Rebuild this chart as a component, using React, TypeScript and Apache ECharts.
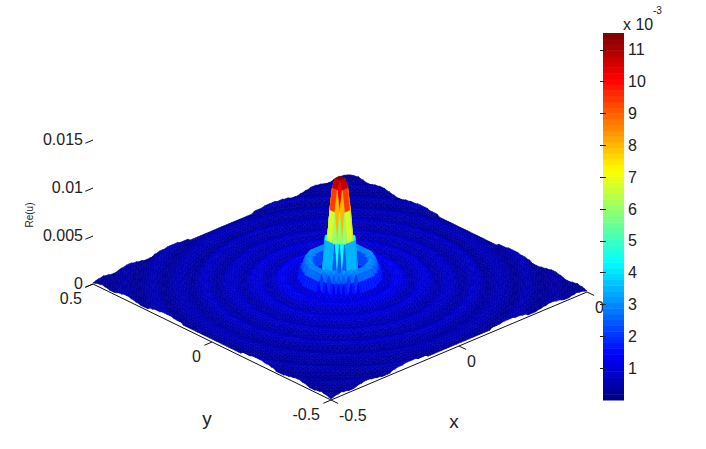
import React, { useEffect, useRef } from "react";
import * as echarts from "echarts";

// Radial profile of Re(u): one value per 0.01 of radius.
const radialProfile = [
  0.0115, 0.0114, 0.0105, 0.0083, 0.0052, 0.0018, 0.0008, 0.0016, 0.0028, 0.0032,
  0.0029, 0.0022, 0.0012, 0.0007, 0.0008, 0.0011, 0.0013, 0.0013, 0.0011, 0.0008,
  0.0006, 0.0006, 0.0008, 0.001, 0.0011, 0.001, 0.0008, 0.0005, 0.0005, 0.0006,
  0.0008, 0.0009, 0.0008, 0.0007, 0.0005, 0.0004, 0.0005, 0.0006, 0.0008, 0.0008,
  0.0007, 0.0005, 0.0003, 0.0004, 0.0005, 0.0006, 0.0007, 0.0006, 0.0005, 0.0004,
  0.0003, 0.0003, 0.0005, 0.0006, 0.0006, 0.0005, 0.0004, 0.0002, 0.0002, 0.0003,
  0.0004, 0.0005, 0.0005, 0.0004, 0.0003, 0.0002, 0.0002, 0.0003, 0.0004, 0.0003,
  0.0002, 0.0001,
];
const xTicks = [-0.5, 0, 0.5];
const yTicks = [-0.5, 0, 0.5];
const zTicks = [0, 0.005, 0.01, 0.015];
const colorbarTicks = [1, 2, 3, 4, 5, 6, 7, 8, 9, 10, 11];
const colorbarMax = 11.53;
const gridCount = 100;

function jet(t: number): string {
  const level = Math.min(63, Math.max(0, Math.floor(t * 64)));
  const v = (level + 0.5) / 64;
  const ch = (c: number) => Math.round(255 * Math.min(1, Math.max(0, 1.5 - Math.abs(4 * v - c))));
  return `rgb(${ch(3)},${ch(2)},${ch(1)})`;
}

function project(x: number, y: number, z: number): [number, number] {
  return [340 + 256 * x - 238 * y, 288 - 108 * x - 116 * y - 9600 * z];
}

function surfaceAt(ix: number, iy: number): number {
  const x = ix / gridCount - 0.5;
  const y = iy / gridCount - 0.5;
  const bin = Math.round(Math.sqrt(x * x + y * y) / 0.01);
  return radialProfile[Math.min(bin, radialProfile.length - 1)];
}

function buildCells(): number[][] {
  const cells: number[][] = [];
  for (let ix = gridCount - 1; ix >= 0; ix--) {
    for (let iy = gridCount - 1; iy >= 0; iy--) {
      cells.push([
        ix,
        iy,
        surfaceAt(ix, iy),
        surfaceAt(ix + 1, iy),
        surfaceAt(ix + 1, iy + 1),
        surfaceAt(ix, iy + 1),
      ]);
    }
  }
  return cells;
}

const FONT = "'Liberation Sans', Arial, sans-serif";

export default function App() {
  const ref = useRef<HTMLDivElement>(null);
  useEffect(() => {
    if (!ref.current) return;
    const chart = echarts.init(ref.current, undefined, { renderer: "svg" });

    const txt = (text: string, pos: [number, number], align: string, fontSize = 16, extra: any = {}) => ({
      type: "text",
      x: pos[0],
      y: pos[1],
      silent: true,
      ...extra,
      style: { text, fill: "#222", font: `${fontSize}px ${FONT}`, align, verticalAlign: "middle" },
    });
    const fmt = (v: number) => String(v);

    const graphics: any[] = [
      ...xTicks.map((v) => {
        const p = project(v, -0.5, 0);
        return txt(fmt(v), [p[0] + 8, p[1] + 15], "left");
      }),
      ...yTicks.map((v) => {
        const p = project(-0.5, v, 0);
        return txt(fmt(v), [p[0] - 11, p[1] + 14], "right");
      }),
      ...zTicks.map((v) => {
        const p = project(-0.5, 0.5, v);
        return txt(fmt(v), [p[0] - 10, p[1] - 1], "right");
      }),
      txt("x", [454, 421], "center", 19),
      txt("y", [207, 418], "center", 19),
      txt("Re(u)", [29, 215], "center", 10, { rotation: Math.PI / 2 }),
      txt("x 10", [623, 24], "left"),
      txt("-3", [653, 10], "left", 10),
    ];

    // Axis segments in data space: [x0, y0, z0, x1, y1, z1]
    const segments: number[][] = [
      [-0.5, -0.5, 0, 0.5, -0.5, 0],
      [-0.5, -0.5, 0, -0.5, 0.5, 0],
      ...xTicks.map((v) => [v, -0.5, 0, v, -0.53, 0]),
      ...yTicks.map((v) => [-0.5, v, 0, -0.53, v, 0]),
      ...zTicks.map((v) => [-0.5, 0.5, v, -0.53, 0.5, v]),
    ];

    const option: any = {
      animation: false,
      backgroundColor: "#fff",
      tooltip: { show: false },
      graphic: graphics,
      grid: [
        { left: 0, top: 0, width: 706, height: 449 },
        { left: 603, top: 33, width: 21, height: 367 },
      ],
      xAxis: [
        { type: "value", gridIndex: 0, min: 0, max: 706, show: false },
        { type: "value", gridIndex: 1, min: 0, max: 1, show: false },
      ],
      yAxis: [
        { type: "value", gridIndex: 0, min: 0, max: 449, inverse: true, show: false },
        {
          type: "value",
          gridIndex: 1,
          min: 0,
          max: colorbarMax,
          position: "right",
          splitLine: { show: false },
          axisLine: { show: false },
          axisTick: { show: true, inside: true, length: 3, customValues: colorbarTicks, lineStyle: { color: "#222" } },
          axisLabel: {
            customValues: colorbarTicks,
            margin: 4,
            color: "#222",
            fontFamily: "Liberation Sans",
            fontSize: 16,
          },
          z: 5,
        },
        {
          type: "value",
          gridIndex: 1,
          min: 0,
          max: colorbarMax,
          position: "left",
          splitLine: { show: false },
          axisLine: { show: false },
          axisLabel: { show: false },
          axisTick: { show: true, inside: true, length: 3, customValues: colorbarTicks, lineStyle: { color: "#222" } },
          z: 5,
        },
      ],
      series: [
        {
          type: "custom",
          xAxisIndex: 0,
          yAxisIndex: 0,
          silent: true,
          clip: false,
          z: 1,
          data: segments,
          renderItem: (_: any, api: any) => {
            const a = project(api.value(0), api.value(1), api.value(2));
            const b = project(api.value(3), api.value(4), api.value(5));
            const pa = api.coord(a);
            const pb = api.coord(b);
            return {
              type: "line",
              shape: { x1: pa[0], y1: pa[1], x2: pb[0], y2: pb[1] },
              style: { stroke: "#111", lineWidth: 1 },
            };
          },
        },
        {
          type: "custom",
          xAxisIndex: 0,
          yAxisIndex: 0,
          silent: true,
          clip: false,
          progressive: 0,
          z: 2,
          data: buildCells(),
          renderItem: (_: any, api: any) => {
            const ix = api.value(0);
            const iy = api.value(1);
            const zs = [api.value(2), api.value(3), api.value(4), api.value(5)];
            const corners: [number, number][] = [
              [ix, iy],
              [ix + 1, iy],
              [ix + 1, iy + 1],
              [ix, iy + 1],
            ];
            const points = corners.map(([i, j], k) =>
              api.coord(project(i / gridCount - 0.5, j / gridCount - 0.5, zs[k]))
            );
            const mean = (zs[0] + zs[1] + zs[2] + zs[3]) / 4;
            const color = jet((mean * 1000) / colorbarMax);
            return {
              type: "polygon",
              shape: { points },
              style: { fill: color, stroke: color, lineWidth: 0.6 },
            };
          },
        },
        {
          type: "custom",
          xAxisIndex: 1,
          yAxisIndex: 1,
          silent: true,
          z: 3,
          data: Array.from({ length: 64 }, (_, i) => [i]),
          renderItem: (_: any, api: any) => {
            const i = api.value(0);
            const lo = api.coord([0, (i * colorbarMax) / 64]);
            const hi = api.coord([1, ((i + 1) * colorbarMax) / 64]);
            return {
              type: "rect",
              shape: { x: lo[0], y: hi[1], width: hi[0] - lo[0], height: lo[1] - hi[1] + 0.5 },
              style: { fill: jet((i + 0.5) / 64) },
            };
          },
        },
      ],
    };
    chart.setOption(option);
    return () => chart.dispose();
  }, []);
  return <div ref={ref} style={{ position: "absolute", left: 0, top: 0, width: 706, height: 449 }} />;
}
